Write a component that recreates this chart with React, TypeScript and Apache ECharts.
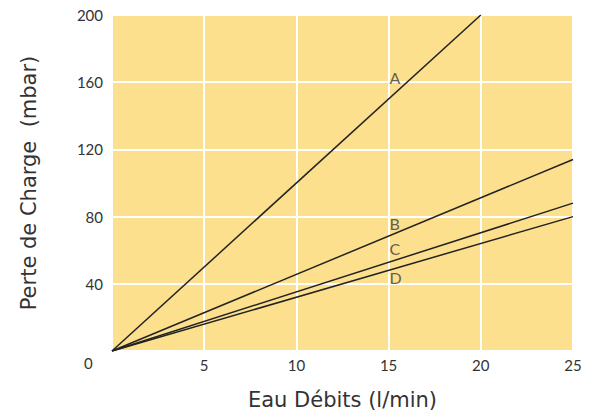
import React, { useEffect, useRef } from "react";
import * as echarts from "echarts";

const seriesNames = ["A", "B", "C", "D"];
const endFlows = [20, 25, 25, 25];
const endLosses = [200, 114, 88, 80];
const labelFlows = [15, 15, 15, 15];
const labelLosses = [163, 76, 61, 43.5];
const xTicks = [0, 5, 10, 15, 20, 25];
const yTicks = [0, 40, 80, 120, 160, 200];

const FONT = "Lato, 'Noto Sans', sans-serif";
const TITLE_FONT = "'DejaVu Sans', sans-serif";
const TEXT = "#333333";

export default function App() {
  const ref = useRef<HTMLDivElement>(null);
  useEffect(() => {
    if (!ref.current) return;
    const chart = echarts.init(ref.current, undefined, { renderer: "svg" });
    const lines = seriesNames.map((n, i) => ({
      name: n,
      type: "line",
      data: [
        [0, 0],
        [endFlows[i], endLosses[i]],
      ],
      symbol: "none",
      lineStyle: { color: "#222222", width: 1.5 },
      silent: true,
      z: 3,
    }));
    const labels = {
      type: "scatter",
      symbolSize: 0,
      silent: true,
      data: seriesNames.map((n, i) => ({ value: [labelFlows[i], labelLosses[i]], name: n })),
      label: {
        show: true,
        position: "right",
        distance: 1,
        formatter: (p: any) => p.name,
        fontFamily: FONT,
        fontSize: 16,
        color: "#3a3a3a",
      },
      z: 4,
    };
    chart.setOption({
      animation: false,
      grid: {
        left: 112,
        right: 19,
        top: 15,
        bottom: 66,
        show: true,
        backgroundColor: "#FCE08E",
        borderWidth: 0,
      },
      xAxis: {
        type: "value",
        min: xTicks[0],
        max: xTicks[xTicks.length - 1],
        interval: 5,
        name: "Eau Débits (l/min)",
        nameLocation: "middle",
        nameGap: 38,
        nameTextStyle: { fontFamily: TITLE_FONT, fontSize: 21, color: TEXT },
        axisLine: { show: false },
        axisTick: { show: false },
        axisLabel: {
          margin: 6,
          fontFamily: FONT,
          fontSize: 15,
          color: TEXT,
          formatter: (v: number) => (v === 0 ? "" : String(v)),
        },
        splitLine: { show: true, lineStyle: { color: "#ffffff", width: 2 } },
      },
      yAxis: {
        type: "value",
        min: yTicks[0],
        max: yTicks[yTicks.length - 1],
        interval: 40,
        name: "Perte de Charge  (mbar)",
        nameLocation: "middle",
        nameGap: 73,
        nameTextStyle: { fontFamily: TITLE_FONT, fontSize: 21, color: TEXT },
        axisLine: { show: false },
        axisTick: { show: false },
        axisLabel: {
          margin: 9,
          fontFamily: FONT,
          fontSize: 15,
          color: TEXT,
          formatter: (v: number) => (v === 0 ? "" : String(v)),
        },
        splitLine: { show: true, lineStyle: { color: "#ffffff", width: 2 } },
      },
      graphic: [
        {
          type: "text",
          left: 84,
          top: 355,
          style: { text: "0", fontFamily: FONT, fontSize: 15, fill: TEXT },
        },
      ],
      series: [...lines, labels],
    });
    return () => chart.dispose();
  }, []);
  return (
    <div
      ref={ref}
      style={{ position: "fixed", left: 0, top: 0, width: 592, height: 417, background: "#ffffff" }}
    />
  );
}
